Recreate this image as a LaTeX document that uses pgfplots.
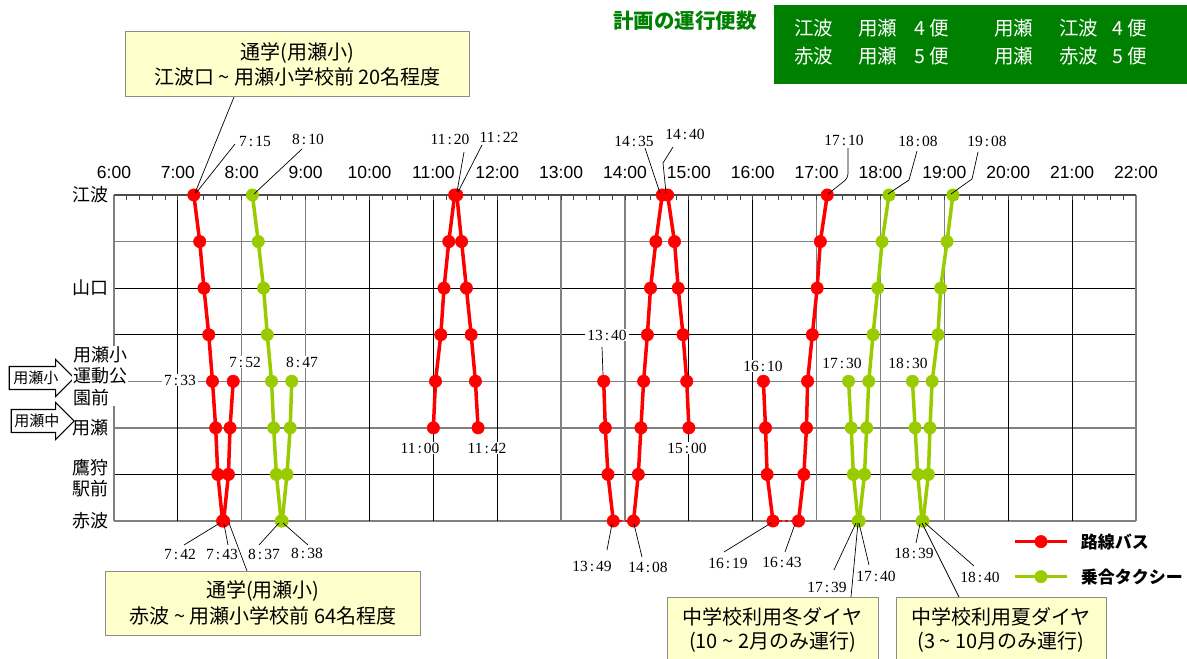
\documentclass[border=0pt]{standalone}
\usepackage{pgfplots}
\pgfplotsset{compat=1.18}
\usetikzlibrary{shapes.arrows}
\usepackage{fontspec}
\setmainfont{Liberation Sans}
\newfontfamily\jp{Noto Sans CJK JP}
\newfontfamily\tm{Liberation Serif}
\definecolor{busred}{RGB}{255,0,0}
\definecolor{taxi}{RGB}{153,204,0}
\definecolor{boxgreen}{RGB}{0,128,0}
\definecolor{callout}{RGB}{255,255,204}
\newcommand\fs[2]{\fontsize{#1}{#2}\selectfont}
\newcommand\tl[2]{{\tm\fs{15.5}{17}#1\kern2pt:\kern2pt#2}}
\pgfplotsset{
  bus/.style={color=busred, line width=3.5pt, mark=*, mark size=6.2pt, mark options={solid,line width=0.5pt}},
  taxi/.style={color=taxi, line width=3.5pt, mark=*, mark size=6.2pt, mark options={solid,line width=0.5pt}},
}
\begin{document}
\begin{tikzpicture}
\useasboundingbox (-114pt,-138pt) rectangle (1073pt,521pt);
\begin{axis}[at={(0pt,0pt)}, anchor=south west,
  x=1.06458pt, y=46.5714pt,
  xmin=360, xmax=1320, ymin=0, ymax=7,
  axis lines=none, ticks=none, clip=false,
  legend image code/.code={\draw[mark repeat=2,mark phase=2,#1] plot coordinates {(0pt,0pt)(26pt,0pt)(52pt,0pt)};},
  legend style={at={(0.8797,-0.038)}, anchor=north west, draw=none, fill=none,
    inner sep=0pt, row sep=19pt, column sep=12pt,
    nodes={inner sep=0pt}, font=\jp\bfseries\fs{17}{20}},
  legend cell align=left,
]
% grid
\pgfplotsinvokeforeach{6,3,2,0}{\draw[black!50,line width=1.3pt] (360,#1) -- (1320,#1);}
\pgfplotsinvokeforeach{5,4,1}{\draw[black,line width=0.9pt] (360,#1) -- (1320,#1);}
\pgfplotsinvokeforeach{420,600,660,720,900,960,1200,1260}{\draw[black,line width=0.9pt] (#1,0) -- (#1,7);}
\pgfplotsinvokeforeach{480,540,780,840,1020,1080,1140,1320}{\draw[black!50,line width=1.4pt] (#1,0) -- (#1,7);}
\draw[black!50,line width=1.2pt] (360,0) -- (360,7);
\pgfplotsinvokeforeach{372,384,...,1308}{\draw[black!75,line width=0.9pt] (#1,7) -- ++(0pt,-5pt);}
\draw[black!70,line width=1.8pt] (360,7) -- (1320,7);
% dotted connections
\addplot[busred, line width=2.5pt, dash pattern=on 3pt off 3pt, forget plot] coordinates {(829,0)(848,0)};
\addplot[busred, line width=2.5pt, dash pattern=on 3pt off 3pt, forget plot] coordinates {(979,0)(1003,0)};
% bus
\addplot[bus] coordinates {(435,7)(440.5,6)(444.5,5)(449,4)(452.5,3)(455.5,2)(457.5,1)(462,0)};
\addlegendentry{路線バス}
\addplot[bus, forget plot] coordinates {(463,0)(467.5,1)(469,2)(472,3)};
\addplot[taxi] coordinates {(490,7)(495.5,6)(500.5,5)(504,4)(508,3)(510,2)(512.5,1)(517,0)};
\addlegendentry{乗合タクシー}
\addplot[taxi, forget plot] coordinates {(518,0)(522.5,1)(525.5,2)(527,3)};
\addplot[bus, forget plot] coordinates {(660,2)(662,3)(667,4)(670,5)(674.5,6)(680,7)};
\addplot[bus, forget plot] coordinates {(682,7)(686.5,6)(691,5)(695.5,4)(699.5,3)(702,2)};
\addplot[bus, forget plot] coordinates {(820,3)(821.5,2)(824,1)(829,0)};
\addplot[bus, forget plot] coordinates {(848,0)(852.5,1)(855,2)(857.5,3)(861,4)(864,5)(869,6)(875,7)};
\addplot[bus, forget plot] coordinates {(880,7)(886.5,6)(890,5)(894.5,4)(898,3)(900,2)};
\addplot[bus, forget plot] coordinates {(970,3)(972,2)(973.5,1)(979,0)};
\addplot[bus, forget plot] coordinates {(1003,0)(1008,1)(1010.5,2)(1011.5,3)(1016,4)(1020.5,5)(1023.5,6)(1030,7)};
\addplot[taxi, forget plot] coordinates {(1050,3)(1052.5,2)(1054.5,1)(1059,0)};
\addplot[taxi, forget plot] coordinates {(1060,0)(1065,1)(1067,2)(1069,3)(1073,4)(1077.5,5)(1081.5,6)(1088,7)};
\addplot[taxi, forget plot] coordinates {(1110,3)(1112.5,2)(1115,1)(1119,0)};
\addplot[taxi, forget plot] coordinates {(1120,0)(1125,1)(1126.5,2)(1128.5,3)(1134,4)(1136.5,5)(1142.5,6)(1148,7)};
\end{axis}
\begin{scope}[x=1pt,y=-1pt,shift={(-114pt,521pt)}]
% hour labels
\foreach \h in {6,...,22}{\pgfmathsetmacro\xx{114+(\h-6)*63.875}\node[font=\fs{17.5}{20}] at (\xx,172) {\h:00};}
% arrows
\node[single arrow, draw=black, fill=white, line width=1.1pt, minimum height=65pt, minimum width=30pt, inner xsep=2pt, inner ysep=4pt, font=\jp\fs{15}{16}, anchor=tip] at (75,378) {用瀬小};
\node[single arrow, draw=black, fill=white, line width=1.1pt, minimum height=63pt, minimum width=30pt, inner xsep=2pt, inner ysep=4pt, font=\jp\fs{15}{16}, anchor=tip] at (75,421) {用瀬中};
% y labels
\begin{scope}[every node/.style={anchor=west,font=\jp\fs{18}{21.5},inner sep=0pt,align=left}]
\node at (72,195) {江波};
\node at (72,288) {山口};
\node[fill=white,inner xsep=1pt] at (72,376) {用瀬小\\運動公\\園前};
\node at (72,428) {用瀬};
\node at (72,478) {鷹狩\\駅前};
\node at (72,521) {赤波};
\end{scope}
% leaders
\begin{scope}[line width=0.7pt]
\draw (235,144) -- (196,193);
\draw (302,149) -- (254,194);
\draw (464,152) -- (457,192);
\draw (482,145) -- (458,192);
\draw (645,148) -- (660,193);
\draw (673,147) -- (663,163) -- (666,193);
\draw[rounded corners=4pt] (848,148) -- (848,178) -- (828,194);
\draw (917,151) -- (909,180) -- (888,194);
\draw (978,152) -- (972,179) -- (951,194);
\draw (602,347) -- (603,375);
\draw (184,545) -- (220,523);
\draw (228,545) -- (224,524);
\draw (259,545) -- (279,523);
\draw (308,545) -- (283,523);
\draw (607,550) -- (612,524);
\draw (642,557) -- (634,524);
\draw (724,552) -- (771,523);
\draw (785,552) -- (795,524);
\draw (834,570) -- (856,523);
\draw (869,565) -- (859,523);
\draw (916,543) -- (920,524);
\draw (974,566) -- (925,523);
\draw (234,97) -- (195,193);
\draw (247,571) -- (229,523);
\draw (851,597) -- (858,523);
\draw (959,597) -- (922,523);
\end{scope}
% time labels
\begin{scope}[every node/.style={fill=white,inner xsep=2pt,inner ysep=1pt}]
\node at (255,141) {\tl{7}{15}};
\node at (308,139) {\tl{8}{10}};
\node at (450,139) {\tl{11}{20}};
\node at (499,137) {\tl{11}{22}};
\node at (634,141) {\tl{14}{35}};
\node at (685,134) {\tl{14}{40}};
\node at (844,140) {\tl{17}{10}};
\node at (918,141) {\tl{18}{08}};
\node at (987,141) {\tl{19}{08}};
\node at (180,380) {\tl{7}{33}};
\node at (245,362) {\tl{7}{52}};
\node at (302,362) {\tl{8}{47}};
\node at (607,335) {\tl{13}{40}};
\node at (420,448) {\tl{11}{00}};
\node at (487,448) {\tl{11}{42}};
\node at (687,448) {\tl{15}{00}};
\node at (763,366) {\tl{16}{10}};
\node at (842,363) {\tl{17}{30}};
\node at (908,363) {\tl{18}{30}};
\node[fill=none] at (180,554) {\tl{7}{42}};
\node[fill=none] at (222,554) {\tl{7}{43}};
\node[fill=none] at (264,554) {\tl{8}{37}};
\node[fill=none] at (307,553) {\tl{8}{38}};
\node[fill=none] at (592,566) {\tl{13}{49}};
\node[fill=none] at (648,567) {\tl{14}{08}};
\node[fill=none] at (728,563) {\tl{16}{19}};
\node[fill=none] at (782,562) {\tl{16}{43}};
\node[fill=none] at (827,587) {\tl{17}{39}};
\node[fill=none] at (876,576) {\tl{17}{40}};
\node[fill=none] at (914,553) {\tl{18}{39}};
\node[fill=none] at (980,577) {\tl{18}{40}};
\end{scope}
% callouts
\node[draw=black!45, fill=callout, line width=1pt, minimum width=343pt, minimum height=65pt, align=center, font=\jp\fs{20}{25}, inner sep=0pt] at (297.5,64.5) {通学(用瀬小)\\江波口 \textasciitilde\ 用瀬小学校前 20名程度};
\node[draw=black!45, fill=callout, line width=1pt, minimum width=314pt, minimum height=64pt, align=center, font=\jp\fs{20}{26}, inner sep=0pt] at (263,603) {通学(用瀬小)\\赤波 \textasciitilde\ 用瀬小学校前 64名程度};
\draw[draw=black!45, fill=callout, line width=1pt] (667,597) rectangle (878,672);
\node[align=center, font=\jp\fs{20}{24}, inner sep=0pt] at (772.5,630) {中学校利用冬ダイヤ\\(10 \textasciitilde\ 2月のみ運行)};
\draw[draw=black!45, fill=callout, line width=1pt] (896,597) rectangle (1106,672);
\node[align=center, font=\jp\fs{20}{24}, inner sep=0pt] at (1001,630) {中学校利用夏ダイヤ\\(3 \textasciitilde\ 10月のみ運行)};
% green box
\fill[boxgreen] (774,5) rectangle (1190,84);
\node[anchor=west, font=\jp\bfseries\fs{20.5}{24}, text=boxgreen, inner sep=0pt] at (613,21) {計画の運行便数};
\begin{scope}[every node/.style={anchor=west, font=\jp\fs{19.5}{22}, text=white, inner sep=0pt}]
\node at (794,28) {江波}; \node at (858,28) {用瀬}; \node at (914,28) {4 便};
\node at (994,28) {用瀬}; \node at (1059,28) {江波}; \node at (1112,28) {4 便};
\node at (794,56) {赤波}; \node at (858,56) {用瀬}; \node at (914,56) {5 便};
\node at (994,56) {用瀬}; \node at (1059,56) {赤波}; \node at (1112,56) {5 便};
\end{scope}
\end{scope}
\end{tikzpicture}
\end{document}
